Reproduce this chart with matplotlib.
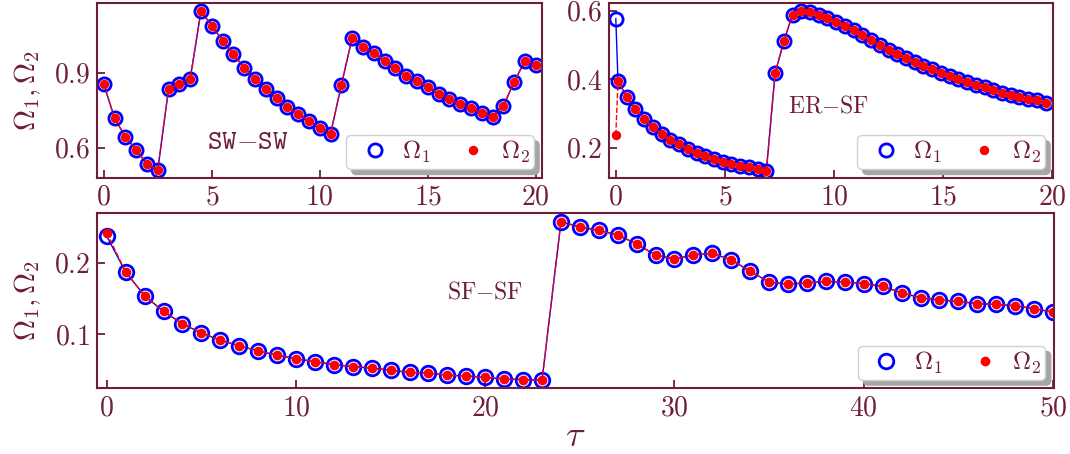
import numpy as np
import matplotlib
matplotlib.use('Agg')
import matplotlib.pyplot as plt

plt.rcParams['font.family'] = 'cmr10'
plt.rcParams['mathtext.fontset'] = 'cm'
plt.rcParams['axes.formatter.use_mathtext'] = True

MAROON = '#6e1d3c'

#%% podatki

# SW-SW
sw_t = np.arange(0, 20.01, 0.5)
sw_o1 = np.array([0.855, 0.718, 0.644, 0.591, 0.535, 0.511, 0.836, 0.855, 0.874, 1.147,
                  1.088, 1.028, 0.975, 0.920, 0.875, 0.834, 0.798, 0.764, 0.734, 0.707,
                  0.680, 0.656, 0.851, 1.040, 1.004, 0.978, 0.948, 0.918, 0.888, 0.868,
                  0.842, 0.815, 0.795, 0.774, 0.758, 0.740, 0.722, 0.767, 0.864, 0.948,
                  0.931])
sw_o2 = sw_o1.copy()

# ER-SF
er_t = np.concatenate([[0.0], np.arange(0.1, 19.8, 0.4)])
er_o1 = np.array([0.576, 0.394, 0.348, 0.312, 0.284, 0.260, 0.240, 0.223, 0.209, 0.196,
                  0.184, 0.176, 0.167, 0.159, 0.152, 0.147, 0.142, 0.137, 0.132, 0.417,
                  0.510, 0.588, 0.598, 0.595, 0.588, 0.578, 0.566, 0.554, 0.542, 0.529,
                  0.515, 0.500, 0.486, 0.473, 0.461, 0.449, 0.438, 0.429, 0.419, 0.409,
                  0.399, 0.392, 0.382, 0.376, 0.368, 0.360, 0.353, 0.348, 0.343, 0.338,
                  0.330])
er_o2 = er_o1.copy()
er_o2[0] = 0.237

# SF-SF
sf_t = np.arange(0, 51)
sf_o1 = np.array([0.237, 0.187, 0.154, 0.132, 0.115, 0.102, 0.092, 0.084, 0.077, 0.071,
                  0.066, 0.062, 0.058, 0.055, 0.053, 0.050, 0.047, 0.046, 0.043, 0.042,
                  0.040, 0.038, 0.037, 0.036, 0.257, 0.250, 0.245, 0.239, 0.226, 0.211,
                  0.205, 0.211, 0.213, 0.204, 0.188, 0.173, 0.170, 0.172, 0.174, 0.173,
                  0.171, 0.167, 0.158, 0.151, 0.148, 0.146, 0.143, 0.142, 0.140, 0.136,
                  0.131])
sf_o2 = sf_o1.copy()
sf_o2[0] = 0.242

#%% funkcije


def drawPanel(ax, t, o1, o2, ms1, ms2):
    ax.plot(t, o1, '-', color='blue', lw=1.0)
    ax.plot(t, o1, 'o', mfc='none', mec='blue', mew=2.0, ms=ms1, label=r'$\Omega_1$')
    ax.plot(t, o2, '--', color='red', lw=1.0)
    ax.plot(t, o2, 'o', mfc='red', mec='red', ms=ms2, label=r'$\Omega_2$')
    for s in ax.spines.values():
        s.set_color(MAROON)
        s.set_linewidth(1.5)
    ax.tick_params(direction='in', length=6, width=1.3, color=MAROON,
                   labelcolor=MAROON, labelsize=20, pad=5)
    leg = ax.legend(loc='lower right', ncol=2, fontsize=18, fancybox=True,
                    shadow={'ox': 4, 'oy': -4, 'color': '0.65', 'alpha': 1},
                    framealpha=1, edgecolor='#d0d0d0', borderpad=0.15,
                    handlelength=2.0, handletextpad=0.1, columnspacing=0.7,
                    borderaxespad=0.35, labelcolor=MAROON)
    return leg


def main():
    fig = plt.figure(figsize=(10.7, 4.54), dpi=100)
    ax1 = fig.add_axes([0.0909, 0.6086, 0.4159, 0.3848])
    ax2 = fig.add_axes([0.5694, 0.6086, 0.4150, 0.3848])
    ax3 = fig.add_axes([0.0909, 0.1447, 0.8941, 0.3855])

    drawPanel(ax1, sw_t, sw_o1, sw_o2, 9.5, 5.8)
    ax1.set_xlim(-0.3, 20.3)
    ax1.set_ylim(0.48, 1.179)
    ax1.set_xticks([0, 5, 10, 15, 20])
    ax1.set_yticks([0.6, 0.9])
    ax1.text(6.69, 0.624, r'$\mathtt{SW{-}SW}$', fontsize=20, color=MAROON,
             ha='center', va='center')
    ax1.set_ylabel(r'$\Omega_1,\Omega_2$', fontsize=21, color=MAROON, labelpad=8)

    drawPanel(ax2, er_t, er_o1, er_o2, 9.5, 5.8)
    ax2.set_xlim(-0.3, 20.05)
    ax2.set_ylim(0.112, 0.622)
    ax2.set_xticks([0, 5, 10, 15, 20])
    ax2.set_yticks([0.2, 0.4, 0.6])
    ax2.text(9.76, 0.320, r'$\mathrm{ER{-}SF}$', fontsize=17, color=MAROON,
             ha='center', va='center')

    drawPanel(ax3, sf_t, sf_o1, sf_o2, 10.5, 6.0)
    ax3.set_xlim(-0.5, 50.05)
    ax3.set_ylim(0.0248, 0.269)
    ax3.set_xticks([0, 10, 20, 30, 40, 50])
    ax3.set_yticks([0.1, 0.2])
    ax3.text(19.97, 0.158, r'$\mathrm{SF{-}SF}$', fontsize=17, color=MAROON,
             ha='center', va='center')
    ax3.set_ylabel(r'$\Omega_1,\Omega_2$', fontsize=21, color=MAROON, labelpad=8)
    ax3.set_xlabel(r'$\tau$', fontsize=26, color=MAROON, labelpad=0)

    fig.savefig('out.png', dpi=100)


if __name__ == '__main__':
    main()
